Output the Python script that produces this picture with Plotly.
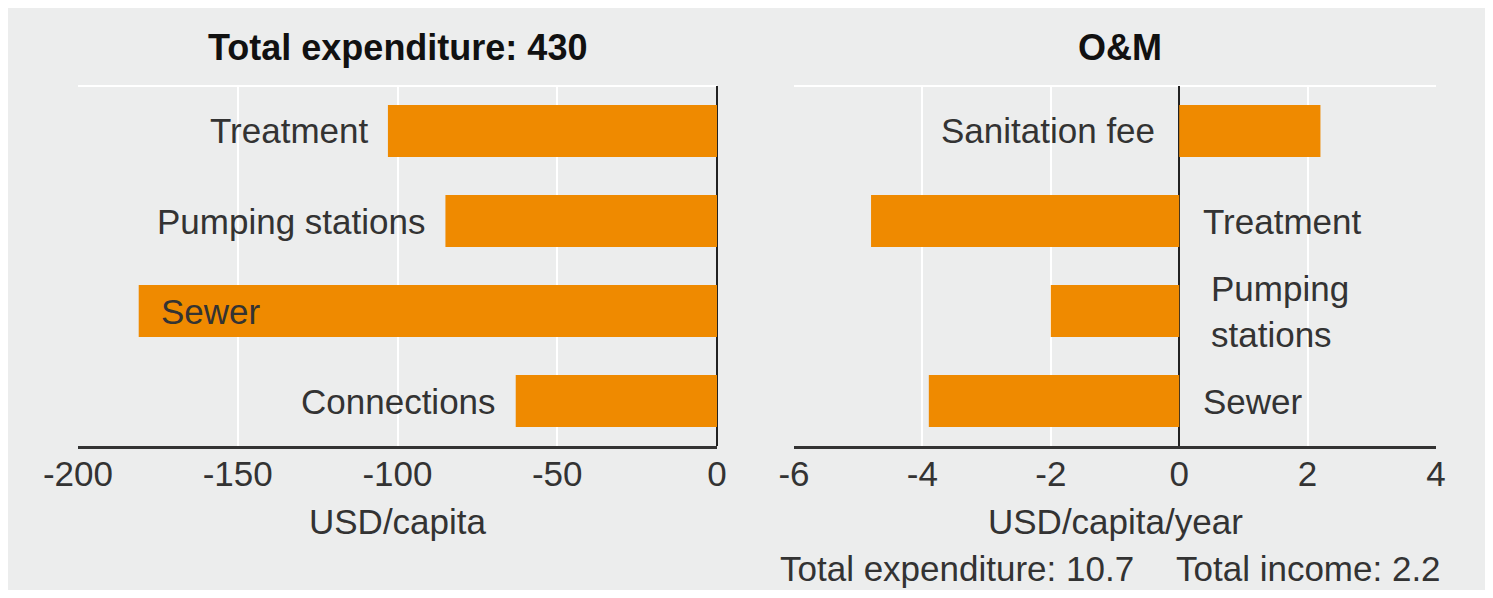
import plotly.graph_objects as go

# ---------------- data ----------------
capex_title = "Total expenditure: 430"
capex_categories = ["Treatment", "Pumping stations", "Sewer", "Connections"]
capex_values = [-103, -85, -181, -63]
capex_ticks = [-200, -150, -100, -50, 0]
capex_axis_title = "USD/capita"

om_title = "O&M"
om_categories = ["Sanitation fee", "Treatment", "Pumping stations", "Sewer"]
om_labels = ["Sanitation fee", "Treatment", "Pumping\nstations", "Sewer"]
om_values = [2.2, -4.8, -2.0, -3.9]
om_ticks = [-6, -4, -2, 0, 2, 4]
om_axis_title = "USD/capita/year"
om_footer = ["Total expenditure: 10.7", "Total income: 2.2"]

# ---------------- style ----------------
OFF = 8                     # page body margin
W, H = 1493 - 2 * OFF, 598 - 2 * OFF
BAR = "#EF8A00"
BG = "#ECEDED"
TXT = "#333333"
FONT = "Liberation Sans, Arial, sans-serif"
FS = 35


def px_x(p):
    return (p - OFF) / W


def px_y(p):
    return 1 - (p - OFF) / H


left_dom = [px_x(78), px_x(717)]
right_dom = [px_x(794), px_x(1436)]
y_dom = [px_y(446), px_y(86)]

fig = go.Figure()
fig.add_trace(go.Bar(y=capex_categories, x=capex_values, orientation="h",
                     marker=dict(color=BAR, line=dict(width=0)), width=0.58,
                     xaxis="x", yaxis="y", hoverinfo="x+y", showlegend=False))
fig.add_trace(go.Bar(y=om_categories, x=om_values, orientation="h",
                     marker=dict(color=BAR, line=dict(width=0)), width=0.58,
                     xaxis="x2", yaxis="y2", hoverinfo="x+y", showlegend=False))

xcommon = dict(showgrid=True, gridcolor="white", gridwidth=2,
               zeroline=True, zerolinecolor="#222222", zerolinewidth=1.5,
               showline=True, linecolor="#333333", linewidth=2.5,
               ticks="", tickfont=dict(family=FONT, size=FS, color=TXT),
               ticklabelstandoff=-5, fixedrange=True, automargin=False)
ycommon = dict(showgrid=False, zeroline=False, showline=False, showticklabels=False,
               ticks="", autorange="reversed", fixedrange=True, automargin=False)

fig.update_layout(
    width=W, height=H, autosize=False,
    margin=dict(l=0, r=0, t=0, b=0, pad=0),
    paper_bgcolor=BG, plot_bgcolor="rgba(0,0,0,0)",
    bargap=0.4,
    xaxis=dict(domain=left_dom, range=[capex_ticks[0], capex_ticks[-1]],
               tickvals=capex_ticks, ticktext=[str(t) for t in capex_ticks],
               anchor="y", **xcommon),
    yaxis=dict(domain=y_dom, anchor="x", categoryorder="array",
               categoryarray=capex_categories, **ycommon),
    xaxis2=dict(domain=right_dom, range=[om_ticks[0], om_ticks[-1]],
                tickvals=om_ticks, ticktext=[str(t) for t in om_ticks],
                anchor="y2", **xcommon),
    yaxis2=dict(domain=y_dom, anchor="x2", categoryorder="array",
                categoryarray=om_categories, **ycommon),
)

shapes = [
    dict(type="line", xref="x domain", yref="y domain", x0=0, x1=1, y0=1, y1=1,
         line=dict(color="white", width=2), layer="below"),
    dict(type="line", xref="x2 domain", yref="y2 domain", x0=0, x1=1, y0=1, y1=1,
         line=dict(color="white", width=2), layer="below"),
]
fig.update_layout(shapes=shapes)

ann = []
lab_font = dict(family=FONT, size=35, color=TXT)
# left panel labels
xmin = capex_ticks[0]
for cat, v in zip(capex_categories, capex_values):
    inside = (v - xmin) < 0.15 * (capex_ticks[-1] - xmin)
    if inside:
        ann.append(dict(x=v, y=cat, xref="x", yref="y", text=cat, showarrow=False,
                        xanchor="left", yanchor="middle", xshift=20, font=lab_font))
    else:
        ann.append(dict(x=v, y=cat, xref="x", yref="y", text=cat, showarrow=False,
                        xanchor="right", yanchor="middle", xshift=-18, font=lab_font))
# right panel labels
for cat, lab, v in zip(om_categories, om_labels, om_values):
    multi = "\n" in lab
    text = lab.replace("\n", "<br>")
    if v > 0:
        ann.append(dict(x=0, y=cat, xref="x2", yref="y2", text=text, showarrow=False,
                        xanchor="right", yanchor="middle", align="left", xshift=-22,
                        font=lab_font))
    else:
        ann.append(dict(x=0, y=cat, xref="x2", yref="y2", text=text, showarrow=False,
                        xanchor="left", yanchor="middle", align="left",
                        xshift=22 + (8 if multi else 0), font=lab_font))

title_font = dict(family=FONT, size=36, color="#111111")
ann.append(dict(x=(left_dom[0] + left_dom[1]) / 2, y=px_y(48), xref="paper", yref="paper",
                xanchor="center", yanchor="middle", text="<b>" + capex_title + "</b>",
                showarrow=False, font=title_font))
ann.append(dict(x=(right_dom[0] + right_dom[1]) / 2 + 5 / W, y=px_y(48), xref="paper",
                yref="paper", xanchor="center", yanchor="middle",
                text="<b>" + om_title + "</b>", showarrow=False, font=title_font))
ax_font = dict(family=FONT, size=FS, color=TXT)
ann.append(dict(x=(left_dom[0] + left_dom[1]) / 2, y=px_y(521), xref="paper", yref="paper",
                xanchor="center", yanchor="middle", text=capex_axis_title,
                showarrow=False, font=ax_font))
ann.append(dict(x=(right_dom[0] + right_dom[1]) / 2, y=px_y(521), xref="paper",
                yref="paper", xanchor="center", yanchor="middle", text=om_axis_title,
                showarrow=False, font=ax_font))
ann.append(dict(x=px_x(778), y=px_y(568), xref="paper", yref="paper", xanchor="left",
                yanchor="middle", text=om_footer[0], showarrow=False, font=ax_font))
ann.append(dict(x=px_x(1443), y=px_y(568), xref="paper", yref="paper", xanchor="right",
                yanchor="middle", text=om_footer[1], showarrow=False, font=ax_font))
fig.update_layout(annotations=ann)

fig.write_html("out.html")
